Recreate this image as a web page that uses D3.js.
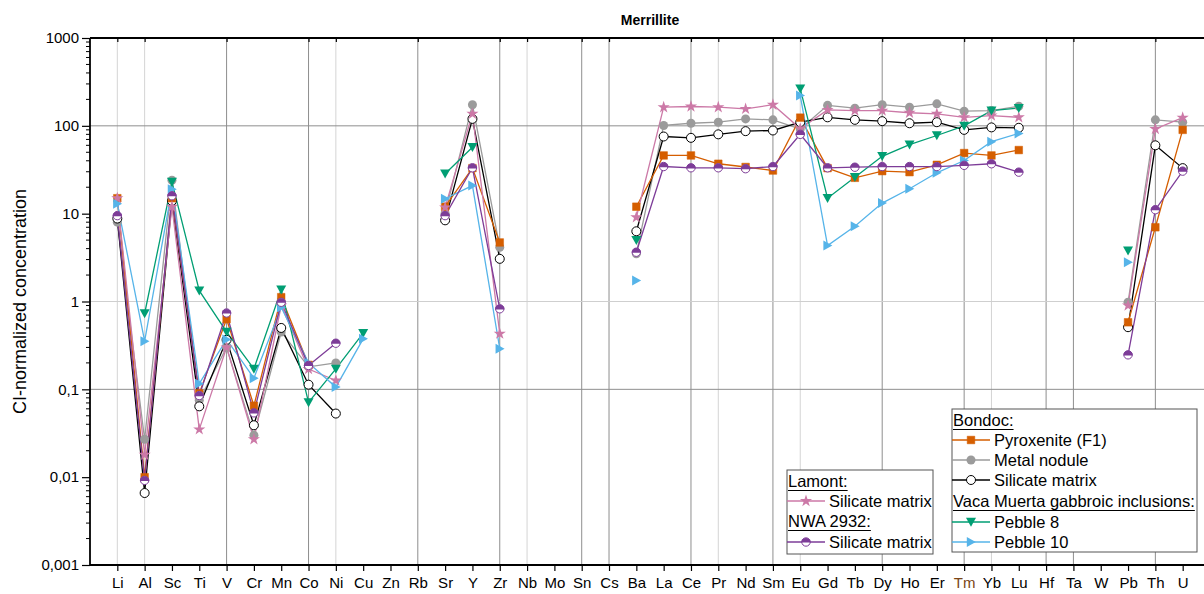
<!DOCTYPE html>
<html>
<head>
<meta charset="utf-8">
<script src="https://cdn.jsdelivr.net/npm/d3@7"></script>
<style>
  body { margin: 0; background: #fff; }
  svg { font-family: Arial, "Liberation Sans", sans-serif; }
</style>
</head>
<body>
<div id="canvas"></div>
<script>
const elements = ['Li','Al','Sc','Ti','V','Cr','Mn','Co','Ni','Cu','Zn','Rb','Sr','Y','Zr','Nb','Mo','Sn','Cs','Ba',
  'La','Ce','Pr','Nd','Sm','Eu','Gd','Tb','Dy','Ho','Er','Tm','Yb','Lu','Hf','Ta','W','Pb','Th','U'];

const n = null;
//                   Li    Al      Sc  Ti     V     Cr     Mn    Co     Ni     Cu    Zn Rb Sr    Y    Zr    Nb Mo Sn Cs Ba    La   Ce   Pr   Nd   Sm   Eu   Gd   Tb   Dy   Ho   Er   Tm   Yb   Lu   Hf Ta W  Pb    Th   U
const pyroxenite   = [15,   0.010,  15, 0.09,  0.63, 0.065, 1.12, 0.19,  n,     n,    n, n, 12,   33,  4.7,  n, n, n, n, 12,   46,  46,  37,  34,  31,  124, 33,  25.6,30.5,29.7,36,  49,  46,  53,  n, n, n, 0.58, 7.0, 90];
const metalNodule  = [8.0,  0.027,  24, 0.075, 0.30, 0.030, 0.45, 0.18,  0.20,  n,    n, n, 10.1, 174, 4.15, n, n, n, n, 3.5,  101, 107, 110, 120, 117, 92,  171, 159, 174, 163, 178, 147, 149, 167, n, n, n, 0.98, 117, 110];
const bondocMatrix = [8.8,  0.0066, 14, 0.064, 0.366,0.039, 0.50, 0.113, 0.053, n,    n, n, 8.4,  120, 3.06, n, n, n, n, 6.3,  75.6,73,  80,  87,  88.5,110, 125, 117, 113, 107, 110, 90,  96,  95,  n, n, n, 0.51, 60,  33];
const pebble8      = [n,    0.73,   23, 1.33,  0.45, 0.171, 1.36, 0.071, 0.171, 0.436,n, n, 28.5, 57,  n,    n, n, n, n, 5.0,  n,   n,   n,   n,   n,   265, 15,  26,  45,  61,  77.6,100, 149, 159, n, n, n, 3.8,  n,   n];
const pebble10     = [13,   0.353,  19, 0.116, 0.37, 0.134, 0.86, 0.20,  0.106, 0.376,n, n, 14.8, 20.9,0.29, n, n, n, n, 1.73, n,   n,   n,   n,   n,   221, 4.34,7.2, 13.2,19.2,29.2,40.3,66,  82,  n, n, n, 2.8,  n,   n];
const lamontMatrix = [15,   0.018,  12, 0.035, 0.30, 0.027, 0.90, 0.17,  0.126, n,    n, n, 11.8, 137, 0.43, n, n, n, n, 9.1,  163, 166, 163, 156, 174, 93,  152, 149, 149, 141, 137, 125, 131, 125, n, n, n, 0.90, 92,  124];
const nwaMatrix    = [9.5,  0.0092, 16, 0.085, 0.74, 0.054, 0.98, 0.187, 0.335, n,    n, n, 9.5,  33.3,0.826,n, n, n, n, 3.64, 34.4,33.3,33.3,32.5,34.4,80,  33.3,33.8,34.4,34.4,34.4,35.5,37,  29.7,n, n, n, 0.247,11.1,30.5];

const yTicks = [0.001, 0.01, 0.1, 1, 10, 100, 1000];
const gridDarkX = ['V','Co','Rb','Zr','Sn','Cs','Ce','Sm','Dy','Tm','Hf','Ta','Th'];
const gridLightX = ['Li','Al','Ni','Nb','Pr','Eu','Yb'];
const gridDarkY = [100, 0.1];
const gridLightY = [1];

const width = 1204;
const height = 594;
const plotLeft = 90, plotRight = 1210, plotTop = 38, plotBottom = 565;

const svg = d3.select('#canvas')
  .append('svg')
  .attr('width', width)
  .attr('height', height);

const x = d3.scalePoint().domain(elements).range([plotLeft, plotRight]).padding(1);
const y = d3.scaleLog().domain([0.001, 1000]).range([plotBottom, plotTop]);

// grid
svg.selectAll('.gxl').data(gridLightX).enter().append('line')
  .attr('x1', d => x(d)).attr('x2', d => x(d)).attr('y1', plotTop).attr('y2', plotBottom)
  .attr('stroke', '#d4d4d4').attr('stroke-width', 1);
svg.selectAll('.gxd').data(gridDarkX).enter().append('line')
  .attr('x1', d => x(d)).attr('x2', d => x(d)).attr('y1', plotTop).attr('y2', plotBottom)
  .attr('stroke', '#8e8e8e').attr('stroke-width', 1);
svg.selectAll('.gyl').data(gridLightY).enter().append('line')
  .attr('x1', plotLeft).attr('x2', width).attr('y1', d => y(d)).attr('y2', d => y(d))
  .attr('stroke', '#cfcfcf').attr('stroke-width', 1);
svg.selectAll('.gyd').data(gridDarkY).enter().append('line')
  .attr('x1', plotLeft).attr('x2', width).attr('y1', d => y(d)).attr('y2', d => y(d))
  .attr('stroke', '#8e8e8e').attr('stroke-width', 1);

// axes
const fmt = (d) => String(d).replace('.', ',');

const yAxis = svg.append('g')
  .attr('transform', `translate(${plotLeft},0)`)
  .call(d3.axisLeft(y).tickValues(yTicks).tickFormat(fmt).tickSize(8).tickPadding(3));

const minor = [];
for (let e = -3; e < 3; e++) {
  for (let k = 2; k < 10; k++) minor.push(k * Math.pow(10, e));
}
yAxis.selectAll('.minor').data(minor).enter().append('line')
  .attr('x1', -4).attr('x2', 0)
  .attr('y1', d => y(d)).attr('y2', d => y(d))
  .attr('stroke', '#000');

const xAxis = svg.append('g')
  .attr('transform', `translate(0,${plotBottom})`)
  .call(d3.axisBottom(x).tickSize(6).tickPadding(6));

const topAxis = svg.append('g')
  .attr('transform', `translate(0,${plotTop})`)
  .call(d3.axisBottom(x).tickValues(gridDarkX.concat(gridLightX)).tickSize(4).tickFormat(''));

[yAxis, xAxis, topAxis].forEach(g => {
  g.select('.domain').attr('stroke-width', 1.8).attr('stroke', '#000');
  g.selectAll('.tick line').attr('stroke', '#000').attr('stroke-width', 1.2);
  g.selectAll('.tick text').attr('font-size', 15).attr('fill', '#000')
    .attr('font-family', 'Arial, "Liberation Sans", sans-serif');
});
xAxis.selectAll('.tick text').filter(d => d === 'Tm').attr('fill', '#7a4516');
topAxis.select('.domain').attr('d', `M${plotLeft},0H${width}`);
xAxis.select('.domain').attr('d', `M${plotLeft},0H${width}`);
yAxis.select('.domain').attr('d', `M0,${plotTop}V${plotBottom}`);

svg.append('text')
  .attr('transform', `translate(21,${(plotTop + plotBottom) / 2}) rotate(-90)`)
  .attr('text-anchor', 'middle')
  .attr('dominant-baseline', 'middle')
  .attr('font-size', 18)
  .text('CI-normalized concentration');

svg.append('text')
  .attr('x', 650).attr('y', 25)
  .attr('text-anchor', 'middle')
  .attr('font-size', 14).attr('font-weight', 'bold')
  .text('Merrillite');

// markers
const drawMarker = (g, shape, color) => {
  if (shape === 'square') {
    g.append('path').attr('d', d3.symbol(d3.symbolSquare, 58)()).attr('fill', color).attr('stroke', color).attr('stroke-width', 0.5);
  } else if (shape === 'dot') {
    g.append('circle').attr('r', 4.5).attr('fill', color);
  } else if (shape === 'open') {
    g.append('circle').attr('r', 4.5).attr('fill', '#fff').attr('stroke', color).attr('stroke-width', 1);
  } else if (shape === 'down') {
    g.append('path').attr('d', 'M-5,-4.2L5,-4.2L0,4.8Z').attr('fill', color);
  } else if (shape === 'right') {
    g.append('path').attr('d', 'M-4.2,-5L4.8,0L-4.2,5Z').attr('fill', color);
  } else if (shape === 'star') {
    g.append('path').attr('d', d3.symbol(d3.symbolStar, 46)()).attr('fill', color);
  } else if (shape === 'half') {
    g.append('circle').attr('r', 4.2).attr('fill', '#fff').attr('stroke', color).attr('stroke-width', 1);
    g.append('path').attr('d', 'M-4.7,0.6A4.7,4.7 0 0 1 4.7,0.6Z').attr('fill', color);
  }
};

const series = [
  { name: 'Metal nodule', values: metalNodule, color: '#9b9b9b', shape: 'dot' },
  { name: 'Silicate matrix', values: bondocMatrix, color: '#000000', shape: 'open' },
  { name: 'Pyroxenite (F1)', values: pyroxenite, color: '#d55e00', shape: 'square' },
  { name: 'Lamont', values: lamontMatrix, color: '#cc79a7', shape: 'star' },
  { name: 'Pebble 8', values: pebble8, color: '#009e73', shape: 'down' },
  { name: 'Pebble 10', values: pebble10, color: '#56b4e9', shape: 'right' },
  { name: 'NWA 2932', values: nwaMatrix, color: '#7d3c98', shape: 'half' }
];

const line = d3.line()
  .defined(d => d.v != null)
  .x(d => x(d.el))
  .y(d => y(d.v));

series.forEach(s => {
  const pts = elements.map((el, i) => ({ el: el, v: s.values[i] }));
  svg.append('path')
    .datum(pts)
    .attr('d', line)
    .attr('fill', 'none')
    .attr('stroke', s.color)
    .attr('stroke-width', 1.3);
});

series.forEach(s => {
  const pts = elements.map((el, i) => ({ el: el, v: s.values[i] })).filter(d => d.v != null);
  svg.selectAll(null)
    .data(pts)
    .enter()
    .append('g')
    .attr('transform', d => `translate(${x(d.el)},${y(d.v)})`)
    .each(function () { drawMarker(d3.select(this), s.shape, s.color); });
});

// Legends
const legendSample = (g, lx, ly, s) => {
  g.append('line').attr('x1', lx).attr('x2', lx + 38).attr('y1', ly).attr('y2', ly)
    .attr('stroke', s.color).attr('stroke-width', 1.3);
  drawMarker(g.append('g').attr('transform', `translate(${lx + 19},${ly})`), s.shape, s.color);
  g.append('text').attr('x', lx + 42).attr('y', ly).attr('dominant-baseline', 'central')
    .attr('font-size', 16.5).text(s.label);
};
const legendHeader = (g, lx, ly, txt) => {
  const t = g.append('text').attr('x', lx).attr('y', ly).attr('dominant-baseline', 'central')
    .attr('font-size', 16.5).text(txt);
  const w = t.node().getComputedTextLength();
  g.append('line').attr('x1', lx).attr('x2', lx + w).attr('y1', ly + 9.5).attr('y2', ly + 9.5)
    .attr('stroke', '#000').attr('stroke-width', 1);
};

const leg1 = svg.append('g');
leg1.append('rect').attr('x', 787).attr('y', 470).attr('width', 146).attr('height', 84)
  .attr('fill', '#fff').attr('stroke', '#555').attr('stroke-width', 1);
legendHeader(leg1, 788, 481, 'Lamont:');
legendSample(leg1, 787, 501, Object.assign({ label: 'Silicate matrix' }, series[3]));
legendHeader(leg1, 788, 521, 'NWA 2932:');
legendSample(leg1, 787, 542, Object.assign({ label: 'Silicate matrix' }, series[6]));

const leg2 = svg.append('g');
leg2.append('rect').attr('x', 952).attr('y', 409).attr('width', 245).attr('height', 143)
  .attr('fill', '#fff').attr('stroke', '#555').attr('stroke-width', 1);
legendHeader(leg2, 953, 420, 'Bondoc:');
legendSample(leg2, 952, 440, Object.assign({}, series[2], { label: 'Pyroxenite (F1)' }));
legendSample(leg2, 952, 460, Object.assign({}, series[0], { label: 'Metal nodule' }));
legendSample(leg2, 952, 480, Object.assign({}, series[1], { label: 'Silicate matrix' }));
legendHeader(leg2, 953, 501, 'Vaca Muerta gabbroic inclusions:');
legendSample(leg2, 952, 522, Object.assign({}, series[4], { label: 'Pebble 8' }));
legendSample(leg2, 952, 542, Object.assign({}, series[5], { label: 'Pebble 10' }));
</script>
</body>
</html>
